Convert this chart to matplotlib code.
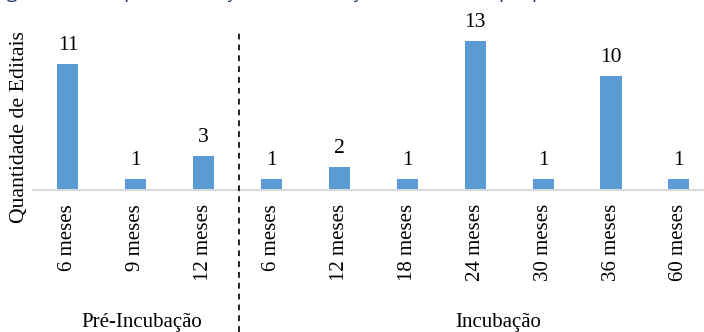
import matplotlib.pyplot as plt

# Dados: quantidade de editais por tempo de duração
periodos = ["6 meses", "9 meses", "12 meses",
            "6 meses", "12 meses", "18 meses", "24 meses",
            "30 meses", "36 meses", "60 meses"]
quantidade = [11, 1, 3, 1, 2, 1, 13, 1, 10, 1]
fases = ["Pré-Incubação", "Incubação"]

plt.rcParams["font.family"] = ["Liberation Serif", "DejaVu Serif"]

fig = plt.figure(figsize=(7.04, 3.32), dpi=100)
ax = fig.add_axes([33 / 704, 142 / 332, 671 / 704, 190 / 332])

x = list(range(len(periodos)))
ax.bar(x, quantidade, width=0.31, color="#5b9bd5", zorder=2)

for xi, q in zip(x, quantidade):
    ax.annotate(str(q), (xi, q), xytext=(0, 10), textcoords="offset points",
                ha="center", va="baseline", fontsize=15.5)

ax.set_xlim(-0.515, 9.37)
ax.set_ylim(0, 16.6)

ax.set_xticks(x)
ax.set_xticklabels(periodos, rotation=90, fontsize=15)
ax.tick_params(axis="x", length=0, pad=10)
ax.set_yticks([])

for s in ["top", "right", "left"]:
    ax.spines[s].set_visible(False)
ax.spines["bottom"].set_color("#d9d9d9")
ax.spines["bottom"].set_linewidth(1.5)

# separador entre as fases
fig.add_artist(plt.Line2D([239 / 704, 239 / 704], [0, 302 / 332],
                          color="black", linestyle=(0, (3.5, 3)), linewidth=1.2))

fig.text(20 / 704, (332 - 127) / 332, "Quantidade de Editais", rotation=90,
         ha="center", va="center", fontsize=15.7)
fig.text(142 / 704, 5 / 332, fases[0], ha="center", va="baseline", fontsize=15)
fig.text(498 / 704, 5 / 332, fases[1], ha="center", va="baseline", fontsize=15)

# legenda da figura (cortada no topo)
fig.text(-8 / 704, 1 + 2 / 332,
         "Figura 3 – Tempo de duração da incubação em cada etapa, por edital",
         ha="left", va="baseline", fontsize=14, color="#1f3864",
         family=["Open Sans", "DejaVu Sans"])

fig.savefig("out.png", dpi=100)
